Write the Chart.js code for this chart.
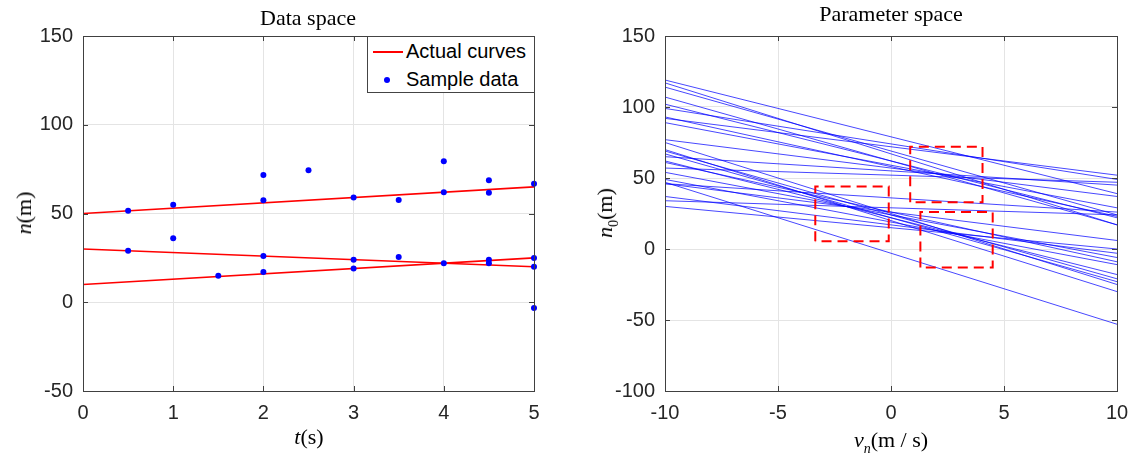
<!DOCTYPE html>
<html>
<head>
<meta charset="utf-8">
<title>Data space / Parameter space</title>
<script src="https://cdn.jsdelivr.net/npm/chart.js@4.4.0/dist/chart.umd.min.js"></script>
<style>
  body { margin: 0; background: #fff; }
  #page { position: relative; width: 1134px; height: 453px; overflow: hidden; background: #fff; }
  .panel { position: absolute; top: 0; width: 567px; height: 453px; }
  .panel canvas { position: absolute; left: 0; top: 0; }
  .lbl {
    position: absolute; white-space: nowrap; color: #000;
    font-family: "Liberation Serif", "Times New Roman", serif; font-size: 22px;
    transform: translate(-50%, -50%);
  }
  .lbl.rot { transform: translate(-50%, -50%) rotate(-90deg); }
  .lbl sub { font-size: 14px; vertical-align: -6px; line-height: 0; }
  .legend {
    position: absolute; left: 367px; top: 36px; width: 168px; height: 57px;
    box-sizing: border-box; border: 1px solid #444; background: #fff;
    font-family: "Liberation Sans", Arial, sans-serif; font-size: 20px; color: #000;
  }
  .legend .row { position: absolute; left: 38px; height: 24px; line-height: 24px; }
  .legend .swline { position: absolute; left: 5px; top: 14px; width: 30px; height: 2px; background: #ff0000; }
  .legend .swdot { position: absolute; left: 16px; top: 40px; width: 6px; height: 6px; border-radius: 50%; background: #0000ff; }
</style>
</head>
<body>
<div id="page">
  <div class="panel" style="left:0">
    <canvas id="dataChart" width="567" height="453"></canvas>
    <div class="legend">
      <div class="swline"></div>
      <div class="row" style="top:2px">Actual curves</div>
      <div class="swdot"></div>
      <div class="row" style="top:30px">Sample data</div>
    </div>
  </div>
  <div class="panel" style="left:567px">
    <canvas id="paramChart" width="567" height="453"></canvas>
  </div>
  <div class="lbl" style="left:308px;top:18px">Data space</div>
  <div class="lbl rot" style="left:24px;top:213px"><i>n</i>(m)</div>
  <div class="lbl" style="left:309px;top:437px"><i>t</i>(s)</div>
  <div class="lbl" style="left:891px;top:14px">Parameter space</div>
  <div class="lbl rot" style="left:605px;top:213px"><i>n</i><sub>0</sub>(m)</div>
  <div class="lbl" style="left:891px;top:440px"><i>v</i><sub><i>n</i></sub>(m / s)</div>
</div>

<script>
// ---- data space: the three actual curves (value at t = 0 and t = 5)
const curveT = [0, 5];
const curveStart = [50, 30, 10];
const curveEnd = [65, 20, 25];

// ---- data space: sample points
const sampleT = [0.5, 0.5, 1, 1, 1.5, 2, 2, 2, 2, 2.5, 3, 3, 3, 3.5, 3.5,
                 4, 4, 4, 4.5, 4.5, 4.5, 4.5, 5, 5, 5, 5];
const sampleN = [51.5, 29, 55, 36, 15, 71.7, 57.4, 26, 17, 74.3, 59, 24, 19, 57.6, 25.5,
                 79.4, 62, 22, 68.7, 61.7, 24, 22, 66.8, 25, 20, -3.2];

// ---- parameter space: one line per sample, n0 at v = -10 and at v = 10
const paramV = [-10, 10];
const paramStart = [57, 34, 65, 46, 30, 92, 77, 46, 37, 99, 89, 54, 49,
                    93, 61, 119, 102, 62, 114, 107, 69, 67, 117, 75, 70, 47];
const paramEnd = [47, 24, 45, 26, 0, 52, 37, 6, -3, 49, 29, -6, -11,
                  23, -9, 39, 22, -18, 24, 17, -21, -23, 17, -25, -30, -53];

// ---- parameter space: dashed red boxes
const boxLeft = [-3.35, 0.85, 1.3];
const boxRight = [-0.1, 4.05, 4.5];
const boxBottom = [5.5, 33, -13];
const boxTop = [44, 72, 26];

// ---- tick labels
const tTicks = [0, 1, 2, 3, 4, 5];
const nTicks = [-50, 0, 50, 100, 150];
const vTicks = [-10, -5, 0, 5, 10];
const n0Ticks = [-100, -50, 0, 50, 100, 150];

const AXIS_COLOR = "#404040";
const GRID_COLOR = "#e4e4e4";
const TICK_FONT = { family: "'Liberation Sans', Arial, sans-serif", size: 20 };

// box around the axes with small inward tick marks (MATLAB style)
const framePlugin = {
  id: "frame",
  afterDatasetsDraw(chart) {
    const { ctx, chartArea: a, scales } = chart;
    const len = 5;
    ctx.save();
    ctx.strokeStyle = AXIS_COLOR;
    ctx.lineWidth = 1;
    ctx.beginPath();
    scales.x.ticks.forEach(t => {
      const px = Math.round(scales.x.getPixelForValue(t.value)) + 0.5;
      ctx.moveTo(px, a.bottom); ctx.lineTo(px, a.bottom - len);
      ctx.moveTo(px, a.top); ctx.lineTo(px, a.top + len);
    });
    scales.y.ticks.forEach(t => {
      const py = Math.round(scales.y.getPixelForValue(t.value)) + 0.5;
      ctx.moveTo(a.left, py); ctx.lineTo(a.left + len, py);
      ctx.moveTo(a.right, py); ctx.lineTo(a.right - len, py);
    });
    ctx.stroke();
    ctx.strokeRect(Math.round(a.left) + 0.5, Math.round(a.top) + 0.5,
                   Math.round(a.right - a.left), Math.round(a.bottom - a.top));
    ctx.restore();
  },
};

function axis(min, max, ticks, fitFn) {
  return {
    type: "linear",
    min: min,
    max: max,
    afterBuildTicks: s => { s.ticks = ticks.map(v => ({ value: v })); },
    afterFit: fitFn,
    grid: { color: GRID_COLOR, lineWidth: 1, drawTicks: false },
    border: { display: false },
    ticks: {
      font: TICK_FONT,
      color: "#262626",
      padding: 10,
      maxRotation: 0,
      autoSkip: false,
      callback: v => String(v),
    },
  };
}

function baseOptions(yWidth, rightPad, xTicks, xMin, xMax, yTicks, yMin, yMax) {
  return {
    responsive: false,
    animation: false,
    layout: { padding: { left: 0, top: 36, right: rightPad, bottom: 0 } },
    plugins: { legend: { display: false }, tooltip: { enabled: false } },
    scales: {
      x: axis(xMin, xMax, xTicks, s => { s.height = 62; s.paddingLeft = 0; s.paddingRight = 0; }),
      y: axis(yMin, yMax, yTicks, s => { s.width = yWidth; s.paddingTop = 0; s.paddingBottom = 0; }),
    },
  };
}

// ---------- left chart: data space
const dataSets = [];
curveStart.forEach((s, i) => {
  dataSets.push({
    type: "scatter",
    showLine: true,
    data: [{ x: curveT[0], y: s }, { x: curveT[1], y: curveEnd[i] }],
    borderColor: "#ff0000",
    borderWidth: 1.6,
    pointRadius: 0,
    order: 1,
  });
});
dataSets.push({
  type: "scatter",
  data: sampleT.map((t, i) => ({ x: t, y: sampleN[i] })),
  backgroundColor: "#0000ff",
  borderColor: "#0000ff",
  pointRadius: 3,
  borderWidth: 0,
  clip: 5,
  order: 0,
});

new Chart(document.getElementById("dataChart"), {
  type: "scatter",
  data: { datasets: dataSets },
  options: baseOptions(83, 33, tTicks, 0, 5, nTicks, -50, 150),
  plugins: [framePlugin],
});

// ---------- right chart: parameter space
const paramSets = [];
paramStart.forEach((s, i) => {
  paramSets.push({
    type: "scatter",
    showLine: true,
    data: [{ x: paramV[0], y: s }, { x: paramV[1], y: paramEnd[i] }],
    borderColor: "rgba(0, 0, 255, 0.72)",
    borderWidth: 1,
    pointRadius: 0,
    order: 1,
  });
});
boxLeft.forEach((l, i) => {
  const r = boxRight[i], b = boxBottom[i], t = boxTop[i];
  paramSets.push({
    type: "scatter",
    showLine: true,
    data: [{ x: l, y: b }, { x: l, y: t }, { x: r, y: t }, { x: r, y: b }, { x: l, y: b }],
    borderColor: "#ff0000",
    borderWidth: 2,
    borderDash: [10, 6],
    pointRadius: 0,
    order: 0,
  });
});

new Chart(document.getElementById("paramChart"), {
  type: "scatter",
  data: { datasets: paramSets },
  options: baseOptions(98, 17, vTicks, -10, 10, n0Ticks, -100, 150),
  plugins: [framePlugin],
});
</script>
</body>
</html>
